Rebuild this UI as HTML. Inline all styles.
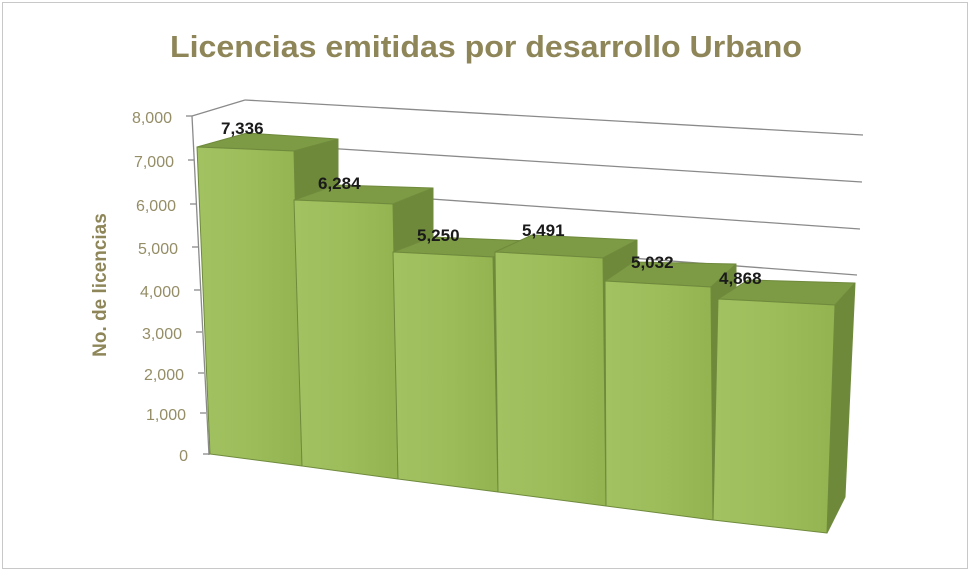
<!DOCTYPE html>
<html><head><meta charset="utf-8"><style>
html,body{margin:0;padding:0;background:#fff}
svg{display:block}
</style></head><body>
<svg width="971" height="573" viewBox="0 0 971 573" xmlns="http://www.w3.org/2000/svg">
<defs>
<linearGradient id="fr" x1="0" y1="0" x2="1" y2="0">
<stop offset="0" stop-color="#a2c262"/><stop offset="0.5" stop-color="#9dbd5b"/><stop offset="1" stop-color="#93b351"/>
</linearGradient>
</defs>
<rect x="2.5" y="2.5" width="965" height="566" fill="#fff" stroke="#c8c8c8" stroke-width="1"/>
<text x="486" y="57" text-anchor="middle" font-family="Liberation Sans, sans-serif" font-weight="bold" font-size="31" fill="#8e8658" textLength="632" lengthAdjust="spacingAndGlyphs">Licencias emitidas por desarrollo Urbano</text>
<text transform="translate(106,285) rotate(-90)" text-anchor="middle" font-family="Liberation Sans, sans-serif" font-weight="bold" font-size="19" fill="#8e8658">No. de licencias</text>
<g stroke="#8a8a8a" stroke-width="1.3" fill="none">
<line x1="245" y1="100" x2="863" y2="135"/>
<line x1="245" y1="143" x2="862" y2="182"/>
<line x1="245" y1="186" x2="860" y2="229"/>
<line x1="245" y1="229" x2="857" y2="275"/>
<line x1="192" y1="116" x2="245" y2="100"/>
<line x1="192" y1="116" x2="209" y2="455"/>
</g>
<g stroke="#8a8a8a" stroke-width="1.3">
<line x1="186" y1="116" x2="192" y2="116"/>
<line x1="188" y1="160" x2="194" y2="160"/>
<line x1="190" y1="204" x2="196" y2="204"/>
<line x1="192" y1="247" x2="198" y2="247"/>
<line x1="194" y1="290" x2="200" y2="290"/>
<line x1="196" y1="332" x2="202" y2="332"/>
<line x1="198" y1="373" x2="204" y2="373"/>
<line x1="200" y1="413" x2="206" y2="413"/>
<line x1="203" y1="454" x2="209" y2="454"/>
</g>
<g font-family="Liberation Sans, sans-serif" font-size="16" fill="#948d66" text-anchor="end">
<text x="172" y="123">8,000</text>
<text x="174" y="167">7,000</text>
<text x="176" y="211">6,000</text>
<text x="178" y="254">5,000</text>
<text x="180" y="297">4,000</text>
<text x="182" y="339">3,000</text>
<text x="184" y="380">2,000</text>
<text x="186" y="420">1,000</text>
<text x="188" y="461">0</text>
</g>
<g stroke="#6f8a3c" stroke-width="1" stroke-linejoin="round">
<polygon points="294,151 338,139 338,460 302,466" fill="#6e8939"/>
<polygon points="197,147 294,151 338,139 247,133" fill="#7d9a45"/>
<polygon points="197,147 294,151 302,466 210,454" fill="url(#fr)"/>
<polygon points="393,204 433,188 433,470 398,479" fill="#6e8939"/>
<polygon points="294,200 393,204 433,188 336,185" fill="#7d9a45"/>
<polygon points="294,200 393,204 398,479 302,466" fill="url(#fr)"/>
<polygon points="493,257 530,241 530,480 498,492" fill="#6e8939"/>
<polygon points="393,252 493,257 530,241 432,237" fill="#7d9a45"/>
<polygon points="393,252 493,257 498,492 398,479" fill="url(#fr)"/>
<polygon points="603,258 637,240 637,495 606,506" fill="#6e8939"/>
<polygon points="495,252 603,258 637,240 532,235" fill="#7d9a45"/>
<polygon points="495,252 603,258 606,506 498,492" fill="url(#fr)"/>
<polygon points="711,287 736,264 736,505 713,520" fill="#6e8939"/>
<polygon points="605,281 711,287 736,264 633,262" fill="#7d9a45"/>
<polygon points="605,281 711,287 713,520 606,506" fill="url(#fr)"/>
<polygon points="835,305 855,283 845,497 827,533" fill="#6e8939"/>
<polygon points="718,299 835,305 855,283 748,280" fill="#7d9a45"/>
<polygon points="718,299 835,305 827,533 713,520" fill="url(#fr)"/>
</g>
<g font-family="Liberation Sans, sans-serif" font-weight="bold" font-size="17" fill="#1a1a1a">
<text x="221" y="134">7,336</text>
<text x="318" y="189">6,284</text>
<text x="417" y="241">5,250</text>
<text x="522" y="236">5,491</text>
<text x="631" y="268">5,032</text>
<text x="719" y="284">4,868</text>
</g>
</svg>
</body></html>
